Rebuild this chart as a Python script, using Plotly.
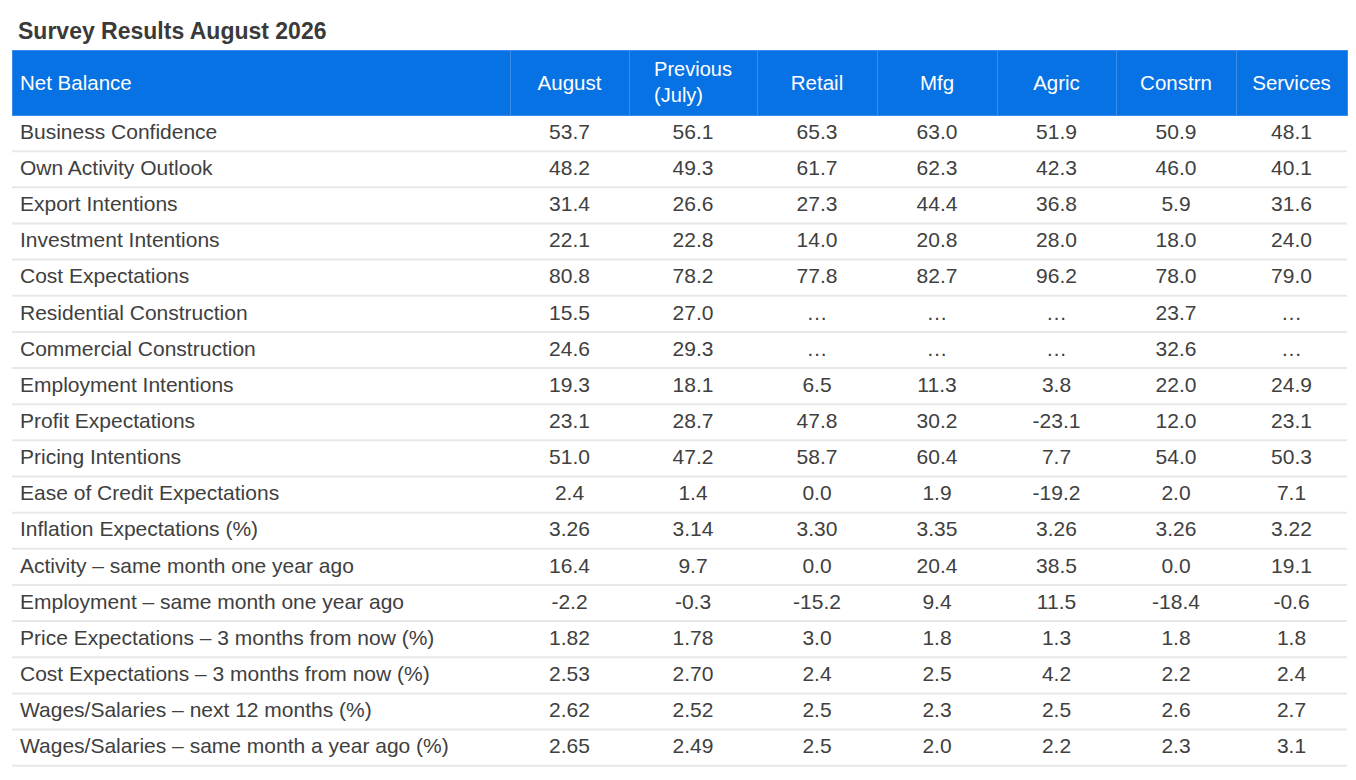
import plotly.graph_objects as go

# Table data (strings keep the source's decimal places)
columns = ["Net Balance", "August", "Previous<br>(July)", "Retail", "Mfg",
           "Agric", "Constrn", "Services"]

measures = [
    "Business Confidence",
    "Own Activity Outlook",
    "Export Intentions",
    "Investment Intentions",
    "Cost Expectations",
    "Residential Construction",
    "Commercial Construction",
    "Employment Intentions",
    "Profit Expectations",
    "Pricing Intentions",
    "Ease of Credit Expectations",
    "Inflation Expectations (%)",
    "Activity – same month one year ago",
    "Employment – same month one year ago",
    "Price Expectations – 3 months from now (%)",
    "Cost Expectations – 3 months from now (%)",
    "Wages/Salaries – next 12 months (%)",
    "Wages/Salaries – same month a year ago (%)",
]

august = ["53.7", "48.2", "31.4", "22.1", "80.8", "15.5", "24.6", "19.3", "23.1",
          "51.0", "2.4", "3.26", "16.4", "-2.2", "1.82", "2.53", "2.62", "2.65"]
previous = ["56.1", "49.3", "26.6", "22.8", "78.2", "27.0", "29.3", "18.1", "28.7",
            "47.2", "1.4", "3.14", "9.7", "-0.3", "1.78", "2.70", "2.52", "2.49"]
retail = ["65.3", "61.7", "27.3", "14.0", "77.8", "…", "…", "6.5", "47.8",
          "58.7", "0.0", "3.30", "0.0", "-15.2", "3.0", "2.4", "2.5", "2.5"]
mfg = ["63.0", "62.3", "44.4", "20.8", "82.7", "…", "…", "11.3", "30.2",
       "60.4", "1.9", "3.35", "20.4", "9.4", "1.8", "2.5", "2.3", "2.0"]
agric = ["51.9", "42.3", "36.8", "28.0", "96.2", "…", "…", "3.8", "-23.1",
         "7.7", "-19.2", "3.26", "38.5", "11.5", "1.3", "4.2", "2.5", "2.2"]
constrn = ["50.9", "46.0", "5.9", "18.0", "78.0", "23.7", "32.6", "22.0", "12.0",
           "54.0", "2.0", "3.26", "0.0", "-18.4", "1.8", "2.2", "2.6", "2.3"]
services = ["48.1", "40.1", "31.6", "24.0", "79.0", "…", "…", "24.9", "23.1",
            "50.3", "7.1", "3.22", "19.1", "-0.6", "1.8", "2.4", "2.7", "3.1"]

# page body adds an 8px offset, so the figure is a bit smaller than the window
W, H = 1340, 764
TOP, LEFT, RIGHT = 42, 4, 1
HEADER_H = 65
ROW_H = 36.15
ONE_LINE_DROP = 17   # single-line header labels sit vertically centred
FONT = "Liberation Sans, Arial, sans-serif"
TEXT = "#404040"
BLUE = "#0772e4"
COL_W = [498, 119, 128, 120, 120, 119, 120, 111]
ALIGN = ["left"] + ["center"] * 7

plot_h = H - TOP
two_line = [c if "<br>" in c else "" for c in columns]
one_line = [c if "<br>" not in c else "" for c in columns]

fig = go.Figure()

# main table: blue header (two-line label) and body
fig.add_trace(go.Table(
    columnwidth=COL_W,
    header=dict(
        values=two_line,
        align=ALIGN,
        fill=dict(color=BLUE),
        line=dict(color="#3b8dea", width=1),
        font=dict(family=FONT, size=20, color="white"),
        height=HEADER_H,
    ),
    cells=dict(
        values=[measures, august, previous, retail, mfg, agric, constrn, services],
        align=ALIGN,
        fill=dict(color="white"),
        line=dict(color="white", width=1),
        font=dict(family=FONT, size=21, color=TEXT),
        height=ROW_H,
    ),
    domain=dict(x=[0, 1], y=[0, 1]),
))

# single-line header labels, dropped a little to sit in the middle of the band
fig.add_trace(go.Table(
    columnwidth=COL_W,
    header=dict(
        values=one_line,
        align=ALIGN,
        fill=dict(color="rgba(0,0,0,0)"),
        line=dict(color="rgba(0,0,0,0)", width=0),
        font=dict(family=FONT, size=20.5, color="white"),
        height=HEADER_H - ONE_LINE_DROP,
    ),
    cells=dict(values=[[] for _ in columns], fill=dict(color="rgba(0,0,0,0)"),
               line=dict(color="rgba(0,0,0,0)", width=0)),
    domain=dict(x=[0, 1], y=[0, 1 - ONE_LINE_DROP / plot_h]),
))

# light horizontal separators under each body row
for i in range(1, len(measures) + 1):
    y = 1 - (HEADER_H + i * ROW_H) / plot_h
    fig.add_shape(type="line", xref="paper", yref="paper", x0=0, x1=1, y0=y, y1=y,
                  line=dict(color="#e8e8e8", width=2), layer="above")

fig.update_layout(
    width=W,
    height=H,
    margin=dict(l=LEFT, r=RIGHT, t=TOP, b=0),
    paper_bgcolor="white",
    plot_bgcolor="white",
    title=dict(
        text="<b>Survey Results August 2026</b>",
        x=10 / W, xref="container", xanchor="left",
        y=1 - 23 / H, yref="container", yanchor="middle",
        font=dict(family=FONT, size=23, color="#3a3a3a"),
    ),
)

fig.write_html("out.html")
